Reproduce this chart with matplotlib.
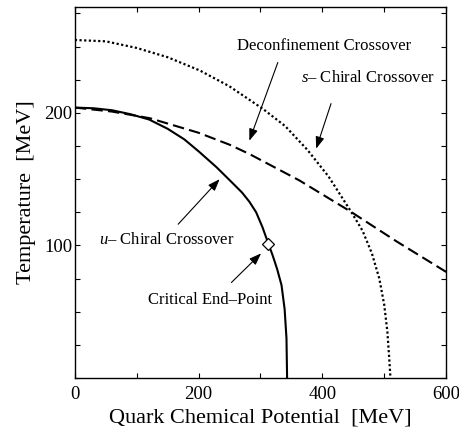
import matplotlib
matplotlib.use('Agg')
import matplotlib.pyplot as plt
from matplotlib.ticker import MultipleLocator

plt.rcParams['font.family'] = ['Liberation Serif', 'DejaVu Serif']
plt.rcParams['mathtext.fontset'] = 'custom'
plt.rcParams['mathtext.rm'] = 'Liberation Serif'
plt.rcParams['mathtext.it'] = 'Liberation Serif:italic'

# u-quark chiral crossover (solid)
u_mu = [0, 30, 60, 90, 120, 150, 177, 200, 229, 255, 270, 282, 293, 303, 313, 320, 327, 334, 339, 342, 343]
u_T = [204, 203.5, 202, 199, 195, 188, 180, 171, 159, 147, 140, 133, 125, 114, 101, 92, 82, 70, 52, 30, 0]

# deconfinement crossover (dashed)
d_mu = [0, 60, 121, 200, 250, 282, 363, 444, 520, 600]
d_T = [204, 201, 196, 185, 176, 169, 149, 126, 103, 80]

# s-quark chiral crossover (dotted)
s_mu = [0, 50, 100, 150, 202, 250, 304, 340, 376, 410, 447, 465, 480, 492, 500, 505, 508, 510]
s_T = [255, 254, 249, 242, 232, 220, 203, 190, 172, 152, 125, 111, 94, 75, 55, 35, 15, 0]

# critical end point
cep_mu = [312]
cep_T = [101]

fig = plt.figure(figsize=(4.59, 4.29), dpi=100)
ax = fig.add_axes([0.163, 0.119, 0.809, 0.865])

ax.plot(u_mu, u_T, color='k', lw=1.5)
ax.plot(d_mu, d_T, color='k', lw=1.5, linestyle=(0, (5.5, 2.5)))
ax.plot(s_mu, s_T, color='k', lw=1.6, linestyle=(0, (1, 1.1)))
ax.plot(cep_mu, cep_T, marker='D', ms=6.5, mfc='white', mec='k', mew=0.9, ls='none', zorder=5)

arrow = dict(arrowstyle='-|>,head_length=0.6,head_width=0.22', color='k', lw=0.8,
             mutation_scale=12, shrinkA=0, shrinkB=0)
fs = 12
ax.text(403, 250.5, 'Deconfinement Crossover', ha='center', va='center', fontsize=fs)
ax.annotate('', xy=(282, 179), xytext=(328, 238), arrowprops=arrow)
ax.text(473, 226.5, r'$s$– Chiral Crossover', ha='center', va='center', fontsize=fs)
ax.annotate('', xy=(390, 173), xytext=(414, 207), arrowprops=arrow)
ax.text(148, 104, r'$u$– Chiral Crossover', ha='center', va='center', fontsize=fs)
ax.annotate('', xy=(234, 150), xytext=(167, 116), arrowprops=arrow)
ax.text(218, 59, 'Critical End–Point', ha='center', va='center', fontsize=fs)
ax.annotate('', xy=(301, 94), xytext=(253, 72), arrowprops=arrow)

ax.set_xlim(0, 600)
ax.set_ylim(0, 280)
ax.xaxis.set_major_locator(MultipleLocator(200))
ax.xaxis.set_minor_locator(MultipleLocator(100))
ax.yaxis.set_major_locator(MultipleLocator(100))
ax.yaxis.set_minor_locator(MultipleLocator(25))
ax.set_yticks([100, 200])
ax.tick_params(which='both', direction='in', top=True, right=True, length=3.5, width=0.8)
ax.tick_params(axis='x', labelsize=13.5, pad=6)
ax.tick_params(axis='y', labelsize=13.5, pad=2)
for s in ax.spines.values():
    s.set_linewidth(1.0)

ax.set_xlabel('Quark Chemical Potential  [MeV]', fontsize=16, labelpad=4)
ax.set_ylabel('Temperature  [MeV]', fontsize=16, labelpad=6)

fig.savefig('out.png', dpi=100)
